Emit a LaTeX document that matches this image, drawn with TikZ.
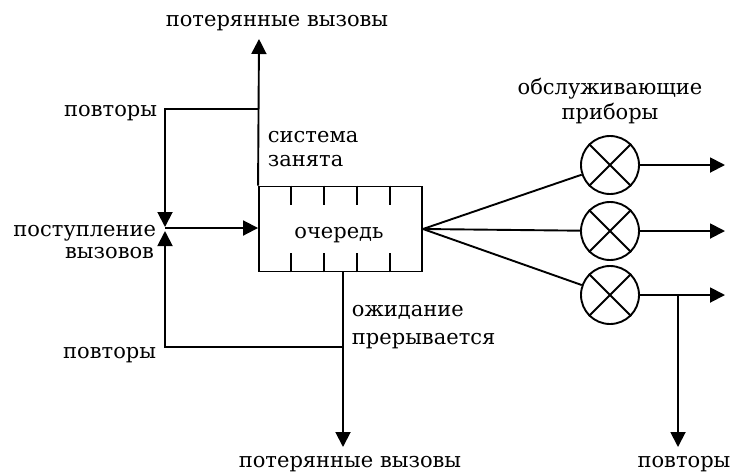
\documentclass[tikz,border=0pt]{standalone}
\usepackage{fontspec}
\setmainfont{DejaVu Serif}
\usetikzlibrary{arrows.meta,calc}
\begin{document}
\begin{tikzpicture}[x=1pt,y=-1pt,
  every path/.style={line width=1.9pt},
  arr/.style={-{Triangle[length=15pt,width=15pt]}},
  lbl/.style={inner sep=0pt,font=\fontsize{21}{25}\selectfont},
  srv/.style={circle,draw,minimum size=58pt,inner sep=0pt},
  queue/.style={rectangle,draw,minimum width=163pt,minimum height=85pt,inner sep=0pt}]
\useasboundingbox (0,0) rectangle (733,475);

% queue with its waiting places
\node[queue] (q) at (340.5,229) {};
\node[lbl,anchor=base] (qt) at (339,238) {очередь};
\foreach \k in {1,...,4}{
  \draw ($(q.north west)!\k/5!(q.north east)$) -- ++(0,19);
  \draw ($(q.south west)!\k/5!(q.south east)$) -- ++(0,-19);
}

% servers
\foreach \i/\y in {1/165,2/231,3/295}{
  \node[srv] (s\i) at (610,\y) {};
  \draw (s\i.45) -- (s\i.225) (s\i.135) -- (s\i.315);
}

% junction and turning points
\coordinate (J) at (165,228);
\coordinate (Jt) at (165,227);
\coordinate (Jb) at (165,231);
\coordinate (rt) at (165,109);
\coordinate (rb) at (165,347);
\coordinate (qt1) at (259,109);
\coordinate (lost1) at (259,39);
\coordinate (qb1) at (343,347);
\coordinate (qbot) at (343,271.5);
\coordinate (lost2) at (343,447);
\coordinate (o1) at (725,165);
\coordinate (o2) at (725,231);
\coordinate (o3) at (725,295);
\coordinate (b3) at (678,295);
\coordinate (rep3) at (678,447);

% arrivals and repeated calls
\draw[arr] (J) -- (q.west |- J);
\draw[arr] (q.north west) -- (lost1);
\draw[arr] (qt1) -- (rt) -- (Jt);
\draw[arr] (qbot) -- (lost2);
\draw[arr] (qb1) -- (rb) -- (Jb);

% distribution to the servers and departures
\foreach \i in {1,2,3}{
  \draw (q.east) -- (s\i);
  \draw[arr] (s\i.east) -- (o\i);
}
\draw[arr] (b3) -- (rep3);

% labels
\node[lbl,anchor=base] (l1) at (277,26) {потерянные вызовы};
\node[lbl,anchor=base east] (l2) at (158,116) {повторы};
\node[lbl,anchor=base west] (l3) at (267,142) {система};
\node[lbl,anchor=base west] (l4) at (267,166) {занята};
\node[lbl,anchor=base east] (l5) at (157,236) {поступление};
\node[lbl,anchor=base east] (l6) at (155,258) {вызовов};
\node[lbl,anchor=base west] (l7) at (351,316) {ожидание};
\node[lbl,anchor=base west] (l8) at (351,344) {прерывается};
\node[lbl,anchor=base east] (l9) at (157,358) {повторы};
\node[lbl,anchor=base] (l10) at (350,467) {потерянные вызовы};
\node[lbl,anchor=base] (l11) at (684,467) {повторы};
\node[lbl,anchor=base] (l12) at (610,94) {обслуживающие};
\node[lbl,anchor=base] (l13) at (610,119) {приборы};
\end{tikzpicture}
\end{document}
